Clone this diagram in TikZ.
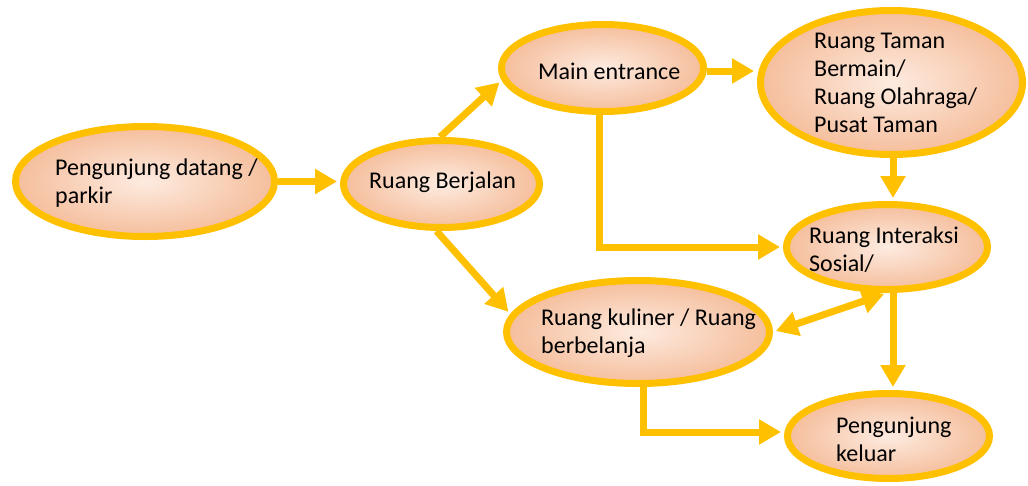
\documentclass[tikz,border=0pt]{standalone}
\usepackage{fontspec}
\setmainfont{Carlito}
\usetikzlibrary{shapes.geometric,arrows.meta,calc}
\definecolor{gold}{HTML}{FFC000}
\definecolor{peachin}{HTML}{FDEBE0}
\definecolor{peachout}{HTML}{F5BE9C}
\tikzset{
  oval/.style={ellipse, draw=gold, line width=7pt, inner sep=0pt,
    inner color=peachin, outer color=peachout},
  lbl/.style={anchor=base west, inner sep=0pt, align=left,
    font=\fontsize{24pt}{28pt}\selectfont, text=black},
  flow/.style={draw=gold, line width=7pt, shorten >=3pt,
    -{Triangle[length=22pt,width=24pt]}},
  flow2/.style={draw=gold, line width=7pt, shorten >=3pt, shorten <=3pt,
    {Triangle[length=22pt,width=24pt]}-{Triangle[length=22pt,width=24pt]}}
}
\begin{document}
\begin{tikzpicture}[x=1pt,y=-1pt]
\useasboundingbox (0,0) rectangle (1028,485);
\node[oval, minimum width=259pt, minimum height=110pt] (A) at (145,181.5) {};
\node[oval, minimum width=196pt, minimum height=87pt] (B) at (441.5,184) {};
\node[oval, minimum width=202pt, minimum height=87pt] (C) at (602.5,68) {};
\node[oval, minimum width=262pt, minimum height=144pt] (D) at (891.5,82.5) {};
\node[oval, minimum width=201pt, minimum height=85pt] (E) at (887,247) {};
\node[oval, minimum width=263pt, minimum height=103pt] (F) at (638,332) {};
\node[oval, minimum width=202pt, minimum height=85pt] (G) at (888.5,436) {};

% multi-line labels are anchored at the baseline of their last line
\node[lbl] (At) at (55,203) {Pengunjung datang /\\parkir};
\node[lbl] (Bt) at (369,188) {Ruang Berjalan};
\node[lbl] (Ct) at (538,79) {Main entrance};
\node[lbl] (Dt) at (814,132) {Ruang Taman\\Bermain/\\Ruang Olahraga/\\Pusat Taman};
\node[lbl] (Et) at (809,271) {Ruang Interaksi\\Sosial/};
\node[lbl] (Ft) at (541,353) {Ruang kuliner / Ruang\\berbelanja};
\node[lbl] (Gt) at (836,461) {Pengunjung\\keluar};

\draw[flow] (A.east) -- (A.east -| B.west);
\draw[flow] ([xshift=-1.5pt]B.north) -- (C.187);
\draw[flow] ([xshift=-5pt]B.south) -- (F.172);
\draw[flow] ([yshift=-3pt]C.east) -- ([yshift=-3pt]C.east -| D.west);
\draw[flow] ([xshift=-3.5pt]C.south) |- (E.west);
\draw[flow] ([xshift=1.5pt]D.south) -- ([xshift=1.5pt]D.south |- E.north);
\draw[flow2] (F.east) -- (E.south);
\draw[flow] ([xshift=6pt]E.south) -- ([xshift=4.5pt]G.north);
\draw[flow] ([xshift=5pt]F.south) |- ([yshift=4pt]G.west);
\end{tikzpicture}
\end{document}
